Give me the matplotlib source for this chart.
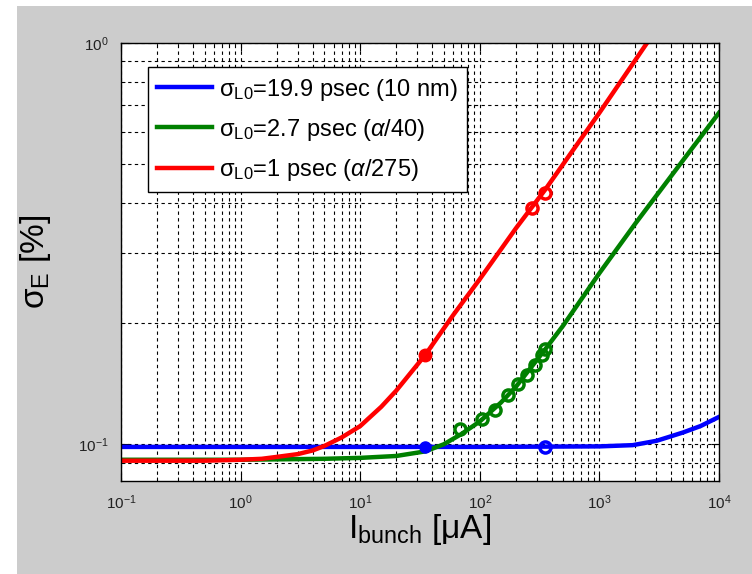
import numpy as np
import matplotlib
matplotlib.use('Agg')
import matplotlib.pyplot as plt
from matplotlib.patches import Rectangle

plt.rcParams['font.family'] = ['Liberation Sans', 'DejaVu Sans']
plt.rcParams['mathtext.fontset'] = 'custom'
plt.rcParams['mathtext.rm'] = 'Liberation Sans'
plt.rcParams['mathtext.it'] = 'Liberation Sans:italic'
plt.rcParams['mathtext.sf'] = 'Liberation Sans'

# curves (I in uA, sigma_E in %)
blue_x = [0.1, 1, 10, 100, 1000, 1900, 3000, 3700, 5000, 7000, 10000]
blue_y = [0.0985, 0.0985, 0.0985, 0.0985, 0.0988, 0.0995, 0.102, 0.104, 0.107, 0.111, 0.117]

green_x = [0.1, 1, 5, 10, 20, 35, 50, 70, 100, 150, 200, 350, 500, 1000, 2000, 5000, 10000]
green_y = [0.0915, 0.0915, 0.092, 0.0925, 0.0935, 0.096, 0.100, 0.106, 0.114, 0.127, 0.139, 0.172, 0.198, 0.267, 0.355, 0.51, 0.67]

red_x = [0.1, 0.5, 1, 1.5, 2, 3, 4, 5, 7, 10, 15, 20, 35, 60, 100, 200, 350, 600, 1000, 2500]
red_y = [0.091, 0.091, 0.0915, 0.092, 0.093, 0.0945, 0.0965, 0.099, 0.104, 0.111, 0.124, 0.136, 0.167, 0.210, 0.258, 0.345, 0.43, 0.54, 0.67, 1.0]

# simulation points
blue_px = [35, 350]
blue_py = [0.0985, 0.0985]
green_px = [68, 104, 134, 172, 209, 248, 290, 330, 351]
green_py = [0.109, 0.1155, 0.122, 0.133, 0.141, 0.149, 0.158, 0.167, 0.173]
red_px = [35, 275, 350]
red_py = [0.167, 0.388, 0.423]

sig = r'$\mathrm{\sigma}_{\mathrm{L0}}$'
labels = [sig + '=19.9 psec (10 nm)',
          sig + r'=2.7 psec ($\alpha$/40)',
          sig + r'=1 psec ($\alpha$/275)']

fig = plt.figure(figsize=(7.52, 5.74), dpi=100, facecolor='#cccccc')
fig.patches.append(Rectangle((0, 0), 17 / 752, 1, transform=fig.transFigure,
                             facecolor='white', edgecolor='none', zorder=-1))
fig.patches.append(Rectangle((0, 1 - 6 / 574), 1, 6 / 574, transform=fig.transFigure,
                             facecolor='white', edgecolor='none', zorder=-1))

ax = fig.add_axes([121 / 752, 1 - 481 / 574, 598 / 752, 438 / 574])
ax.set_facecolor('white')

lb, = ax.plot(blue_x, blue_y, color='#0000ff', lw=3.2, label=labels[0])
lg, = ax.plot(green_x, green_y, color='#008000', lw=3.2, label=labels[1])
lr, = ax.plot(red_x, red_y, color='#ff0000', lw=3.2, label=labels[2])

ax.plot(blue_px[:1], blue_py[:1], 'o', color='#0000ff', ms=8)
ax.plot(blue_px[1:], blue_py[1:], 'o', color='#0000ff', ms=8, mfc='none', mew=2.5)
ax.plot(green_px, green_py, 'o', color='#008000', ms=8, mfc='none', mew=2.5)
ax.plot(red_px[:1], red_py[:1], 'o', color='#ff0000', ms=9)
ax.plot(red_px[1:], red_py[1:], 'o', color='#ff0000', ms=8, mfc='none', mew=2.5)

ax.set_xscale('log')
ax.set_yscale('log')
ax.set_xlim(0.1, 1e4)
ax.set_ylim(0.081, 1.0)

ax.grid(True, which='both', color='black', linestyle=(0, (3, 3)), linewidth=0.8)
ax.tick_params(which='both', direction='in', top=True, right=True, labelsize=11,
               labelcolor='#222222')
ax.tick_params(which='major', length=6, pad=9)
ax.tick_params(which='minor', length=3, labelleft=False, labelbottom=False)
ax.yaxis.set_minor_formatter(matplotlib.ticker.NullFormatter())
for s in ax.spines.values():
    s.set_linewidth(1.0)

ax.set_xlabel(r'I$_{\mathrm{bunch}}$ [$\mathrm{\mu}$A]', fontsize=24, labelpad=0)
ax.set_ylabel(r'$\mathrm{\sigma}_{\mathrm{E}}$ [%]', fontsize=24, labelpad=18)

leg = ax.legend(handles=[lb, lg, lr], loc='upper left', bbox_to_anchor=(0.045, 0.945),
                borderaxespad=0, fontsize=17, frameon=True, fancybox=False, framealpha=1,
                edgecolor='black', handlelength=2.3, borderpad=0.4, labelspacing=0.6,
                handletextpad=0.3)
leg.get_frame().set_linewidth(1.0)

fig.savefig('out.png', dpi=100, facecolor=fig.get_facecolor())
